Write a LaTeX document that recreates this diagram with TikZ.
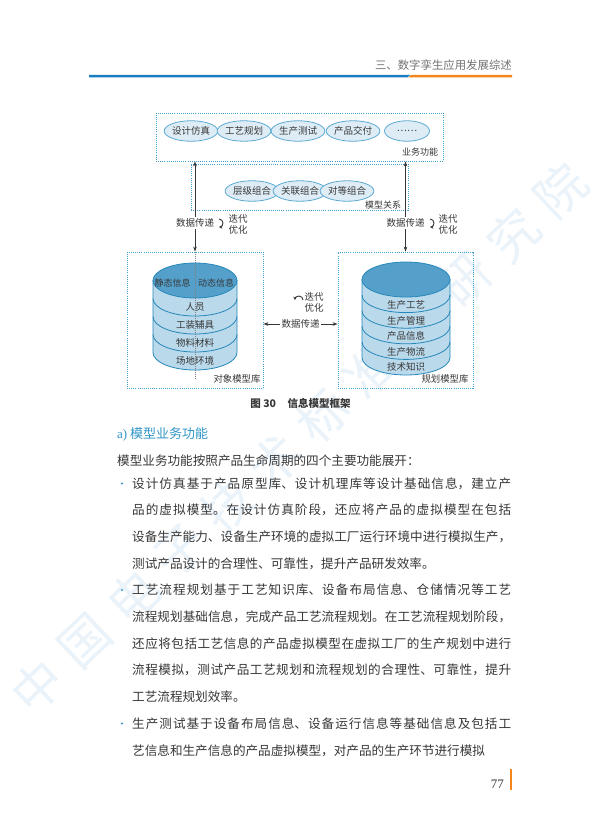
\documentclass[tikz,border=0pt]{standalone}
\usepackage{fontspec}
\setmainfont{Noto Sans CJK SC}
\newfontfamily\romanfont{Liberation Serif}
\usepackage{tikz}
\usetikzlibrary{shapes.geometric, arrows.meta}
\XeTeXlinebreaklocale "zh"
\XeTeXlinebreakskip=0pt plus 2pt minus .4pt
\definecolor{ink}{RGB}{55,55,55}
\definecolor{head-gray}{RGB}{115,115,115}
\definecolor{head-blue}{RGB}{24,126,192}
\definecolor{head-orange}{RGB}{244,134,28}
\definecolor{title-blue}{RGB}{48,150,200}
\definecolor{frame-blue}{RGB}{64,162,208}
\definecolor{oval-line}{RGB}{92,170,210}
\definecolor{oval-fill}{RGB}{222,236,245}
\definecolor{drum-line}{RGB}{38,135,186}
\definecolor{drum-top}{RGB}{84,160,203}
\definecolor{drum-band}{RGB}{186,217,235}
\definecolor{mark-blue}{RGB}{234,242,250}
\tikzset{
  dotbox/.style={draw=frame-blue, line width=.9pt, dash pattern=on .9pt off 1.2pt, inner sep=0pt},
  oval/.style={ellipse, draw=oval-line, fill=oval-fill, line width=.8pt, minimum width=45pt, minimum height=20.5pt, inner sep=0pt, font=\fontsize{9.5}{10}\selectfont, text=ink},
  lab/.style={inner sep=0pt, font=\fontsize{9.5}{11}\selectfont, text=ink, align=center},
  tag/.style={lab, fill=white, inner sep=1.5pt},
  flow/.style={{Stealth[length=5pt,width=3.6pt]}-{Stealth[length=5pt,width=3.6pt]}, line width=.7pt, draw=ink},
  loopback/.style={-{Stealth[length=3.4pt,width=3.4pt]}, line width=.9pt, draw=ink},
  drum/.style={fill=drum-band, draw=drum-line, line width=.8pt},
  midline/.style={draw=gray, line width=.6pt, dash pattern=on .8pt off 1.2pt},
  para/.style={anchor=base west, text width=379pt, align=justify, inner sep=0pt, font=\fontsize{12.6}{26.7}\selectfont, text=ink},
  stamp/.style={inner sep=0pt, rotate=43.5, text=mark-blue, font=\fontsize{50}{50}\selectfont}
}
\begin{document}
\begin{tikzpicture} [x=1pt, y=-1pt]%page 77
  \useasboundingbox (0,0) rectangle (600,838);
  \fill [white] (0,0) rectangle (600,838);
  % watermark
  \foreach \c [count=\i from 0] in {中,国,电,子,技,术,标,准,化,研,究,院}
    \node (mark-\i) [stamp] at (38+47.5*\i, 686-45.1*\i) {\c};
  % running head
  \node (running) [anchor=base east, inner sep=0pt, text=head-gray, font=\fontsize{11.4}{12}\selectfont] at (512,69.3) {三、数字孪生应用发展综述};
  \fill [head-blue] (89,74.8) -- (410.5,74.8) -- (407.5,77.3) -- (89,77.3) -- cycle;
  \fill [head-orange] (411.3,74.8) -- (512,74.8) -- (512,77.3) -- (408.3,77.3) -- cycle;

  % frames
  \node (func) [dotbox, minimum width=287pt, minimum height=48pt] at (299.5,137) {};
  \node (rel) [dotbox, minimum width=217pt, minimum height=46pt] at (299.5,187) {};
  \node (objbox) [dotbox, minimum width=136pt, minimum height=136pt] at (195,320) {};
  \node (planbox) [dotbox, minimum width=135pt, minimum height=136pt] at (405.5,320) {};
  \foreach \x/\t [count=\i] in {191/设计仿真, 244/工艺规划, 298/生产测试, 353/产品交付, 407/……}
    \node (func-\i) [oval] at (\x,131) {\t};
  \foreach \x/\t [count=\i] in {252/层级组合, 300/关联组合, 347/对等组合}
    \node (rel-\i) [oval] at (\x,191) {\t};
  \node (func-name) [lab, font=\fontsize{9}{10}\selectfont] at (420,152) {业务功能};
  \node (rel-name) [lab, font=\fontsize{9}{10}\selectfont] at (383,205.5) {模型关系};

  % object model library
  \path [drum] (153,280.5) -- (153,352.5) arc [start angle=180, end angle=0, x radius=42, y radius=17.5] -- (237,280.5) -- cycle;
  \foreach \y in {298.5,316.5,334.5}
    \draw [drum-line, line width=.8pt] (153,\y) arc [start angle=180, end angle=0, x radius=42, y radius=17.5];
  \draw [drum, fill=drum-top] (195,280.5) circle [x radius=42, y radius=17.5];
  \node (obj-static) [lab, font=\fontsize{9}{10}\selectfont] at (172.5,283) {静态信息};
  \node (obj-dynamic) [lab, font=\fontsize{9}{10}\selectfont] at (216,283) {动态信息};
  \foreach \y/\t [count=\i] in {307/人员, 325/工装辅具, 343/物料材料, 361/场地环境}
    \node (obj-\i) [lab] at (195,\y) {\t};
  \coordinate (obj-foot) at (195,378);
  \draw [midline] (objbox.north) -- (obj-foot);
  \node (obj-name) [lab, font=\fontsize{9.4}{10}\selectfont] at (237,379) {对象模型库};

  % planning model library
  \path [drum] (362,279.5) -- (362,357.5) arc [start angle=180, end angle=0, x radius=44, y radius=17.5] -- (450,279.5) -- cycle;
  \foreach \y in {295.1,310.7,326.3,341.9}
    \draw [drum-line, line width=.8pt] (362,\y) arc [start angle=180, end angle=0, x radius=44, y radius=17.5];
  \draw [drum, fill=drum-top] (406,279.5) circle [x radius=44, y radius=17.5];
  \foreach \y/\t [count=\i] in {304.8/生产工艺, 320.4/生产管理, 336/产品信息, 351.6/生产物流, 367.2/技术知识}
    \node (plan-\i) [lab] at (406,\y) {\t};
  \node (plan-name) [lab, font=\fontsize{9.4}{10}\selectfont] at (445,379) {规划模型库};

  % data transfer
  \draw [flow] (objbox.north) -- node [pos=.32, tag] (send-l) {数据传递} (objbox.north |- func.south);
  \draw [flow] (planbox.north) -- node [pos=.32, tag] (send-r) {数据传递} (planbox.north |- func.south);
  \draw [flow] ([yshift=-4pt]objbox.east) -- node [tag] (send-m) {数据传递} ([yshift=-4pt]planbox.west);
  \node (iter-l) [lab] at (238,224.5) {迭代\\优化};
  \node (iter-r) [lab] at (448,224.5) {迭代\\优化};
  \node (iter-m) [lab] at (314,302.5) {迭代\\优化};
  \coordinate (loop-l) at (219,219);
  \coordinate (loop-r) at (430,219);
  \coordinate (loop-m) at (303,300);
  \draw [loopback] (loop-l) arc [start angle=-90, end angle=90, radius=4];
  \draw [loopback] (loop-r) arc [start angle=-90, end angle=90, radius=4];
  \draw [loopback] (loop-m) arc [start angle=0, end angle=-180, radius=4];

  \node (caption) [inner sep=0pt, text=ink, font=\bfseries\fontsize{10.5}{12}\selectfont] at (300.5,403) {图 30\hspace{1.1em}信息模型框架};

  % text of the page
  \node (sec-a) [anchor=base west, inner sep=0pt, text=title-blue, font=\fontsize{13}{14}\selectfont] at (117,438) {{\romanfont a)} 模型业务功能};
  \node (intro) [anchor=base west, inner sep=0pt, text=ink, font=\fontsize{12.6}{14}\selectfont] at (117,465) {模型业务功能按照产品生命周期的四个主要功能展开：};
  \foreach \y in {483.5,590,723.5}
    \fill [title-blue] (122,\y) circle [radius=1.1];
  \node (para-a) [para] at (132,488) {\noindent 设计仿真基于产品原型库、设计机理库等设计基础信息，建立产\linebreak
品的虚拟模型。在设计仿真阶段，还应将产品的虚拟模型在包括\linebreak
设备生产能力、设备生产环境的虚拟工厂运行环境中进行模拟生产，\linebreak
测试产品设计的合理性、可靠性，提升产品研发效率。};
  \node (para-b) [para] at (132,594.8) {\noindent 工艺流程规划基于工艺知识库、设备布局信息、仓储情况等工艺\linebreak
流程规划基础信息，完成产品工艺流程规划。在工艺流程规划阶段，\linebreak
还应将包括工艺信息的产品虚拟模型在虚拟工厂的生产规划中进行\linebreak
流程模拟，测试产品工艺规划和流程规划的合理性、可靠性，提升\linebreak
工艺流程规划效率。};
  \node (para-c) [para] at (132,728.3) {\noindent\parfillskip=0pt 生产测试基于设备布局信息、设备运行信息等基础信息及包括工\linebreak
艺信息和生产信息的产品虚拟模型，对产品的生产环节进行模拟};

  % folio
  \node (folio) [anchor=base east, inner sep=0pt, text=ink, font=\romanfont\fontsize{13}{14}\selectfont] at (504,788) {77};
  \fill [head-orange] (510,769) rectangle (512,790);
\end{tikzpicture}
\end{document}
